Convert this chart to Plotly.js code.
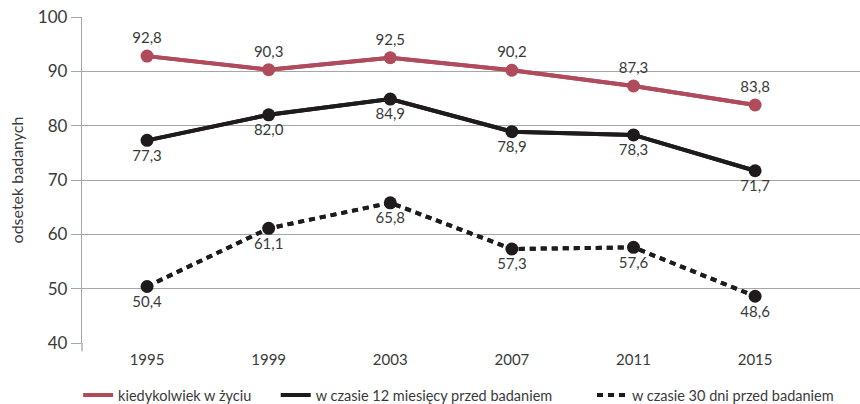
<!DOCTYPE html>
<html><head><meta charset="utf-8">
<script src="https://cdn.plot.ly/plotly-3.0.1.min.js"></script>
<style>body{margin:0;padding:0;background:#fff}#chart{width:860px;height:404px}</style>
</head><body><div id="chart"></div>
<script>
const years = [1995, 1999, 2003, 2007, 2011, 2015];
const everLife = [92.8, 90.3, 92.5, 90.2, 87.3, 83.8];
const last12m = [77.3, 82.0, 84.9, 78.9, 78.3, 71.7];
const last30d = [50.4, 61.1, 65.8, 57.3, 57.6, 48.6];
const seriesNames = ['kiedykolwiek w życiu', 'w czasie 12 miesięcy przed badaniem', 'w czasie 30 dni przed badaniem'];
const yTicks = [40, 50, 60, 70, 80, 90, 100];

const red = '#b04b5b', black = '#1f1b1c';
const dotDash = '6px,5px';
const txtFont = {family: 'Lato, sans-serif', size: 15, color: '#3a3a3a'};
function tr(y, color, dash, pos) {
  return {x: years, y: y, type: 'scatter', mode: 'lines+markers+text', showlegend: false,
    line: {color: color, width: 4, dash: dash}, marker: {color: color, size: 13},
    texttemplate: '%{y:.1f}', textposition: pos, textfont: txtFont, cliponaxis: false};
}
function lg(y, name, color, dash, legend) {
  return {x: years, y: y, name: name, type: 'scatter', mode: 'lines', hoverinfo: 'skip',
    legend: legend, line: {color: color, width: 4, dash: dash}};
}
const data = [
  lg(everLife, seriesNames[0], red, 'solid', 'legend'),
  lg(last12m, seriesNames[1], black, 'solid', 'legend2'),
  lg(last30d, seriesNames[2], black, dotDash, 'legend3'),
  tr(everLife, red, 'solid', 'top center'),
  tr(last12m, black, 'solid', 'bottom center'),
  tr(last30d, black, dotDash, 'bottom center')
];
const legBase = {orientation: 'h', xanchor: 'left', y: -0.16, yanchor: 'middle',
  font: {size: 14.5, color: '#3a3a3a'}, itemclick: false, itemdoubleclick: false};
const layout = {
  width: 860, height: 404, margin: {l: 82, r: 0, t: 17, b: 61, autoexpand: false},
  separators: ', ', paper_bgcolor: '#fff', plot_bgcolor: '#fff',
  font: {family: 'Lato, sans-serif', color: '#3a3a3a'},
  xaxis: {range: [1992.86, 2018.45], tickvals: years, ticktext: years.map(String),
    showgrid: false, zeroline: false, showline: false, ticks: '', ticklabelstandoff: 6,
    tickfont: {size: 15, color: '#3a3a3a'}},
  yaxis: {range: [40, 100], tickvals: yTicks, showgrid: true, gridcolor: '#a6a6a6', gridwidth: 1.3,
    zeroline: false, showline: true, linecolor: '#a6a6a6', linewidth: 1.3,
    ticks: 'outside', ticklen: 10, tickcolor: '#a6a6a6', tickwidth: 1.3,
    tickfont: {size: 17, color: '#3a3a3a'},
    title: {text: 'odsetek badanych', font: {size: 16, color: '#3a3a3a'}, standoff: 10}},
  shapes: [{type: 'line', xref: 'paper', yref: 'paper', x0: 0, x1: 0, y0: 0, y1: -0.025,
    line: {color: '#a6a6a6', width: 1.3}}],
  showlegend: true,
  legend: Object.assign({x: -0.005}, legBase),
  legend2: Object.assign({x: 0.249}, legBase),
  legend3: Object.assign({x: 0.6555}, legBase)
};
Plotly.newPlot('chart', data, layout, {displayModeBar: false});
</script></body></html>
